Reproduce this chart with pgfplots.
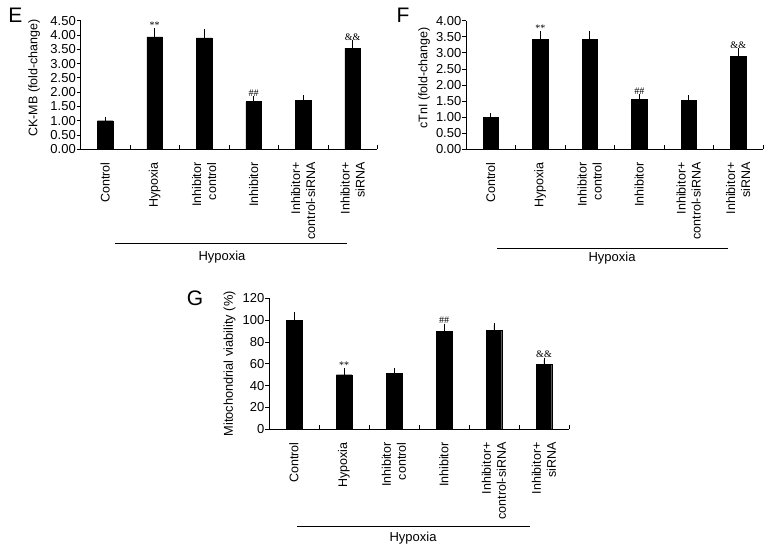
\documentclass[border=0pt]{standalone}
\usepackage{fontspec}
\setmainfont{Liberation Sans}
\newfontfamily\serifann{Liberation Serif}
\usepackage{pgfplots}
\pgfplotsset{compat=1.18}
\tikzset{ann/.style={anchor=south, inner sep=2bp, font=\serifann\fontsize{10bp}{10bp}\selectfont}}
\pgfplotsset{
  panel/.style={
    scale only axis,
    axis lines=left,
    axis line style={-, line width=0.8pt, black},
    xmin=-0.5, xmax=5.5, ymin=0,
    tick align=outside,
    major tick length=4bp,
    minor tick length=-4bp,
    tick style={line width=0.8pt, black},
    xtick={0,...,5},
    minor xtick={0.5,1.5,...,5.5},
    major x tick style={draw=none},
    xticklabels={Control,Hypoxia,{Inhibitor\\control},Inhibitor,{Inhibitor+\\control-siRNA},{Inhibitor+\\siRNA}},
    xticklabel style={rotate=90, anchor=east, align=right, inner sep=0pt, font=\fontsize{12.5bp}{15bp}\selectfont},
    xticklabel shift=9bp,
    yticklabel style={font=\fontsize{13bp}{15bp}\selectfont, inner sep=0.5bp},
    ylabel style={font=\fontsize{12.5bp}{14bp}\selectfont, anchor=south, inner sep=0pt},
    /pgf/number format/assume math mode=true,
    clip=false,
  },
  barplot/.style={ybar, bar width=15.5bp, fill=black, draw=black,
    error bars/.cd, y dir=plus, y explicit,
    error bar style={line width=0.8pt, black},
    error mark options={line width=0.8pt, black, mark size=2.5bp}},
}
\begin{document}
\begin{tikzpicture}
\useasboundingbox (0,0) rectangle (774bp,554bp);
% Panel E
\begin{axis}[panel, at={(80.5bp,404.7bp)}, anchor=south west,
  width=297bp, height=128.6bp, ymax=4.5,
  ytick={0,0.5,...,4.5},
  yticklabel style={/pgf/number format/.cd, fixed, fixed zerofill, precision=2},
  ylabel={CK-MB (fold-change)},
  ylabel style={at={(axis description cs:-0.136,0.555)}}]
\addplot[barplot] coordinates {(0,1.00) +- (0,0.06) (1,3.93) +- (0,0.22) (2,3.90) +- (0,0.21) (3,1.67) +- (0,0.11) (4,1.71) +- (0,0.10) (5,3.53) +- (0,0.21)};
\node[ann] at (axis cs:1,4.15) {**};
\node[ann] at (axis cs:3,1.78) {\#\#};
\node[ann] at (axis cs:5,3.74) {\&\&};
\end{axis}
% Panel F
\begin{axis}[panel, at={(466bp,404.7bp)}, anchor=south west,
  width=297bp, height=128.6bp, ymax=4.0,
  ytick={0,0.5,...,4.0},
  yticklabel style={/pgf/number format/.cd, fixed, fixed zerofill, precision=2},
  ylabel={cTnI (fold-change)},
  ylabel style={at={(axis description cs:-0.121,0.555)}}]
\addplot[barplot] coordinates {(0,1.00) +- (0,0.05) (1,3.41) +- (0,0.19) (2,3.43) +- (0,0.18) (3,1.56) +- (0,0.09) (4,1.53) +- (0,0.08) (5,2.89) +- (0,0.17)};
\node[ann] at (axis cs:1,3.60) {**};
\node[ann] at (axis cs:3,1.65) {\#\#};
\node[ann] at (axis cs:5,3.06) {\&\&};
\end{axis}
% Panel G
\begin{axis}[panel, at={(269bp,124.7bp)}, anchor=south west,
  width=300bp, height=131bp, ymax=120,
  ytick={0,20,...,120},
  ylabel={Mitochondrial viability (\%)},
  ylabel style={font=\fontsize{12.8bp}{14bp}\selectfont, at={(axis description cs:-0.111,0.5)}}]
\addplot[barplot] coordinates {(0,100) +- (0,5) (1,50) +- (0,3.5) (2,51) +- (0,3) (3,89.5) +- (0,5) (4,90.5) +- (0,5) (5,59.5) +- (0,3.8)};
\node[ann] at (axis cs:1,53.5) {**};
\node[ann] at (axis cs:3,94.5) {\#\#};
\node[ann] at (axis cs:5,63.3) {\&\&};
\end{axis}
% Hypoxia brackets and panel letters
\begin{scope}[font=\fontsize{13bp}{15bp}\selectfont]
\draw[line width=0.8pt] (115bp,311bp) -- (347bp,311bp);
\node at (222bp,297bp) {Hypoxia};
\draw[line width=0.8pt] (497bp,305.7bp) -- (728bp,305.7bp);
\node at (612bp,296bp) {Hypoxia};
\draw[line width=0.8pt] (297bp,27.3bp) -- (530bp,27.3bp);
\node at (413bp,16bp) {Hypoxia};
\end{scope}
\begin{scope}[font=\fontsize{21bp}{23bp}\selectfont]
\node at (15.5bp,538.7bp) {E};
\node at (403bp,539bp) {F};
\node at (195bp,255.5bp) {G};
\end{scope}
\end{tikzpicture}
\end{document}
